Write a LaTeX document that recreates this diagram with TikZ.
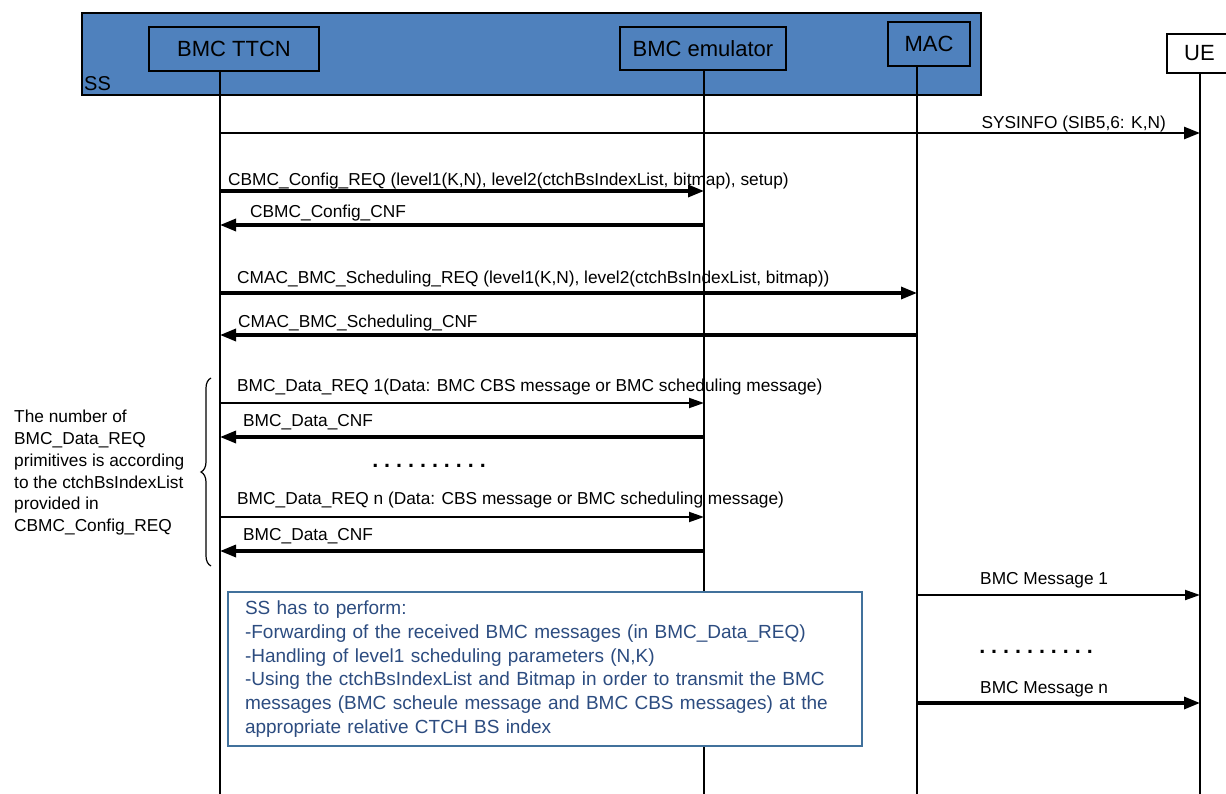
\documentclass[tikz,border=0pt]{standalone}
\usepackage{fontspec}
\setmainfont{Liberation Sans}
\usepackage{xcolor}
\usepackage{tikz}
\usetikzlibrary{math,arrows.meta,decorations.pathreplacing}

\definecolor{ssblue}{HTML}{4F81BD}
\definecolor{noteline}{HTML}{41719C}
\definecolor{notetext}{HTML}{2C4C80}

\begin{document}
\begin{tikzpicture}[x=1pt,y=-1pt,
	head/.style={draw,line width=1.4pt,fill=ssblue,inner sep=0pt,font=\fontsize{22}{26}\selectfont},
	life/.style={line width=1.4pt},
	big/.style={line width=3.2pt,-{Triangle[length=16pt,width=12pt]}},
	small/.style={line width=1.9pt,-{Triangle[length=15pt,width=10pt]}},
	lbl/.style={anchor=base west,inner sep=0pt,font=\fontsize{17.3}{20}\selectfont},
	dots/.style={anchor=base,inner sep=0pt,font=\fontsize{21.5}{24}\selectfont\bfseries\frenchspacing}]
\useasboundingbox (0,0) rectangle (1226,794);
\tikzmath{
	\xa = 220;\xb = 704;\xc = 917;\xd = 1200;\yend = 794;
	%
	{\draw[line width=1.4pt,fill=ssblue] (82,13) rectangle (981,95);};
	{\node[lbl,font=\fontsize{20}{24}\selectfont] (ss) at (84,91) {SS};};
	{\node[head,minimum width=170,minimum height=44] (ttcn) at (234,49) {BMC TTCN};};
	{\node[head,minimum width=166,minimum height=43] (emu) at (703,48.5) {BMC emulator};};
	{\node[head,minimum width=82,minimum height=44] (mac) at (929,44) {MAC};};
	{\node[head,fill=white,minimum width=65,minimum height=39] (ue) at (1199.5,53.5) {UE};};
	%
	{\coordinate (ttcnEnd) at (\xa,\yend);};
	{\coordinate (emuEnd) at (\xb,\yend);};
	{\coordinate (macEnd) at (\xc,\yend);};
	{\coordinate (ueEnd) at (\xd,\yend);};
	{\draw[life] (ttcn.south -| ttcnEnd) -- (ttcnEnd);};
	{\draw[life] (emu.south -| emuEnd) -- (emuEnd);};
	{\draw[life] (mac.south -| macEnd) -- (macEnd);};
	{\draw[life] (ue.south -| ueEnd) -- (ueEnd);};
	%
	{\coordinate (sysA) at (\xa,133);};{\coordinate (sysB) at (\xd,133);};
	{\coordinate (cfgA) at (\xa,191);};{\coordinate (cfgB) at (\xb,191);};
	{\coordinate (cfcA) at (\xa,225);};{\coordinate (cfcB) at (\xb,225);};
	{\coordinate (schA) at (\xa,293);};{\coordinate (schB) at (\xc,293);};
	{\coordinate (sccA) at (\xa,335);};{\coordinate (sccB) at (\xc,335);};
	{\coordinate (d1A) at (\xa,403);};{\coordinate (d1B) at (\xb,403);};
	{\coordinate (c1A) at (\xa,437);};{\coordinate (c1B) at (\xb,437);};
	{\coordinate (dnA) at (\xa,517);};{\coordinate (dnB) at (\xb,517);};
	{\coordinate (cnA) at (\xa,551);};{\coordinate (cnB) at (\xb,551);};
	{\coordinate (m1A) at (\xc,595);};{\coordinate (m1B) at (\xd,595);};
	{\coordinate (mnA) at (\xc,703);};{\coordinate (mnB) at (\xd,703);};
	%
	{\draw[big,line width=2.5pt] (sysA) -- (sysB);};
	{\draw[big] (cfgA) -- (cfgB);};
	{\draw[big] (cfcB) -- (cfcA);};
	{\draw[big] (schA) -- (schB);};
	{\draw[big] (sccB) -- (sccA);};
	{\draw[small] (d1A) -- (d1B);};
	{\draw[big] (c1B) -- (c1A);};
	{\draw[small] (dnA) -- (dnB);};
	{\draw[big] (cnB) -- (cnA);};
	{\draw[small] (m1A) -- (m1B);};
	{\draw[big] (mnA) -- (mnB);};
	%
	{\node[lbl,anchor=base east] (sysL) at (1166,129) {SYSINFO (SIB5,6: K,N)};};
	{\node[lbl] (cfgL) at (228,186) {CBMC\_Config\_REQ (level1(K,N), level2(ctchBsIndexList, bitmap), setup)};};
	{\node[lbl] (cfcL) at (250,218) {CBMC\_Config\_CNF};};
	{\node[lbl] (schL) at (237,284) {CMAC\_BMC\_Scheduling\_REQ (level1(K,N), level2(ctchBsIndexList, bitmap))};};
	{\node[lbl] (sccL) at (238,327) {CMAC\_BMC\_Scheduling\_CNF};};
	{\node[lbl] (d1L) at (237,391) {BMC\_Data\_REQ 1(Data: BMC CBS message or BMC scheduling message)};};
	{\node[lbl] (c1L) at (243,426) {BMC\_Data\_CNF};};
	{\node[lbl] (dnL) at (237,504) {BMC\_Data\_REQ n (Data: CBS message or BMC scheduling message)};};
	{\node[lbl] (cnL) at (243,540) {BMC\_Data\_CNF};};
	{\node[lbl] (m1L) at (980,584) {BMC Message 1};};
	{\node[lbl] (mnL) at (980,693) {BMC Message n};};
	%
	{\node[dots] (dotsA) at (429,467) {. . . . . . . . . .};};
	{\node[dots] (dotsB) at (1036,653) {. . . . . . . . . .};};
	%
	{\coordinate (brTop) at (211,378);};
	{\coordinate (brBot) at (211,566);};
	{\draw[line width=1.2pt,decorate,decoration={brace,amplitude=10pt}] (brBot) -- (brTop);};
	{\node[anchor=north west,inner sep=0pt,align=left,font=\fontsize{17.3}{21.8}\selectfont] (why) at (14,410)
		{The number of\\BMC\_Data\_REQ\\primitives is according\\to the ctchBsIndexList\\provided in\\CBMC\_Config\_REQ};};
	%
	{\node[draw=noteline,line width=1.5pt,fill=white,text=notetext,minimum width=634,minimum height=154,
		text width=600,inner xsep=17,inner ysep=0,align=left,font=\fontsize{19}{23.7}\selectfont] (todo) at (545,669)
		{SS has to perform:\\-Forwarding of the received BMC messages (in BMC\_Data\_REQ)\\-Handling of level1 scheduling parameters (N,K)\\-Using the ctchBsIndexList and Bitmap in order to transmit the BMC\\messages (BMC scheule message and BMC CBS messages) at the\\appropriate relative CTCH BS index};};
};
\end{tikzpicture}
\end{document}
